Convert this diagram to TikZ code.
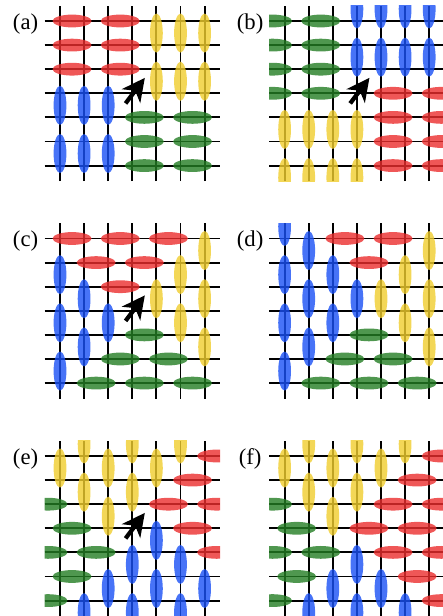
\documentclass[tikz,border=0pt]{standalone}
\usepackage{fontspec}
\setmainfont{Liberation Serif}
\usepackage{tikz}
\usetikzlibrary{arrows.meta}

\definecolor{dimerred}{RGB}{235,45,45}
\definecolor{dimeryellow}{RGB}{240,205,45}
\definecolor{dimerblue}{RGB}{25,80,245}
\definecolor{dimergreen}{RGB}{35,125,35}

\begin{document}
\begin{tikzpicture}[x=18.075pt, y=18.075pt]
    % Define styles for the lattice and the dimers
    \tikzstyle{lattice} = [draw=black, line width=1.4pt, step=1]
    \tikzstyle{hd} = [x radius=0.81, y radius=0.265]
    \tikzstyle{vd} = [x radius=0.265, y radius=0.81]
    \tikzstyle{red dimer} = [fill=dimerred, fill opacity=0.8]
    \tikzstyle{yellow dimer} = [fill=dimeryellow, fill opacity=0.8]
    \tikzstyle{blue dimer} = [fill=dimerblue, fill opacity=0.8]
    \tikzstyle{green dimer} = [fill=dimergreen, fill opacity=0.8]
    \tikzstyle{panel label} = [inner sep=0, font=\fontsize{17}{20}\selectfont]
    \tikzstyle{arrow} = [
        line width=3.2pt, -{Stealth[length=17pt, width=17pt, inset=5pt]}
    ]

    \useasboundingbox (-2.49,0.871) rectangle (15.89,-24.69);
    \clip (-2.49,0.871) rectangle (15.89,-24.69);

    % Panel (a)
    \begin{scope}
        \node[panel label] (lbl_a) at (-1.43,-0.12) {(a)};
        \begin{scope}
            \clip (-0.64,0.64) rectangle (6.64,-6.64);
            \draw[lattice] (-0.64,0.64) grid (6.64,-6.64);
            \fill[red dimer] (0.5,0) ellipse[hd] (2.5,0) ellipse[hd]
                (0.5,-1) ellipse[hd] (2.5,-1) ellipse[hd]
                (0.5,-2) ellipse[hd] (2.5,-2) ellipse[hd];
            \fill[yellow dimer] (4,-0.5) ellipse[vd] (5,-0.5) ellipse[vd]
                (6,-0.5) ellipse[vd] (4,-2.5) ellipse[vd]
                (5,-2.5) ellipse[vd] (6,-2.5) ellipse[vd];
            \fill[blue dimer] (0,-3.5) ellipse[vd] (1,-3.5) ellipse[vd]
                (2,-3.5) ellipse[vd] (0,-5.5) ellipse[vd]
                (1,-5.5) ellipse[vd] (2,-5.5) ellipse[vd];
            \fill[green dimer] (3.5,-4) ellipse[hd] (5.5,-4) ellipse[hd]
                (3.5,-5) ellipse[hd] (5.5,-5) ellipse[hd]
                (3.5,-6) ellipse[hd] (5.5,-6) ellipse[hd];
        \end{scope}
        \coordinate (tail_a) at (2.72,-3.42);
        \coordinate (tip_a) at (3.52,-2.36);
        \draw[arrow] (tail_a) to (tip_a);
    \end{scope}

    % Panel (b)
    \begin{scope}[shift={(9.32,0)}]
        \node[panel label] (lbl_b) at (-1.43,-0.12) {(b)};
        \begin{scope}
            \clip (-0.64,0.64) rectangle (6.64,-6.64);
            \draw[lattice] (-0.64,0.64) grid (6.64,-6.64);
            \fill[green dimer] (-0.5,0) ellipse[hd] (1.5,0) ellipse[hd]
                (-0.5,-1) ellipse[hd] (1.5,-1) ellipse[hd]
                (-0.5,-2) ellipse[hd] (1.5,-2) ellipse[hd]
                (-0.5,-3) ellipse[hd] (1.5,-3) ellipse[hd];
            \fill[blue dimer] (3,0.5) ellipse[vd] (4,0.5) ellipse[vd]
                (5,0.5) ellipse[vd] (6,0.5) ellipse[vd]
                (3,-1.5) ellipse[vd] (4,-1.5) ellipse[vd]
                (5,-1.5) ellipse[vd] (6,-1.5) ellipse[vd];
            \fill[red dimer] (4.5,-3) ellipse[hd] (6.5,-3) ellipse[hd]
                (4.5,-4) ellipse[hd] (6.5,-4) ellipse[hd]
                (4.5,-5) ellipse[hd] (6.5,-5) ellipse[hd]
                (4.5,-6) ellipse[hd] (6.5,-6) ellipse[hd];
            \fill[yellow dimer] (0,-4.5) ellipse[vd] (1,-4.5) ellipse[vd]
                (2,-4.5) ellipse[vd] (3,-4.5) ellipse[vd]
                (0,-6.5) ellipse[vd] (1,-6.5) ellipse[vd]
                (2,-6.5) ellipse[vd] (3,-6.5) ellipse[vd];
        \end{scope}
        \coordinate (tail_b) at (2.72,-3.42);
        \coordinate (tip_b) at (3.52,-2.36);
        \draw[arrow] (tail_b) to (tip_b);
    \end{scope}

    % Panel (c)
    \begin{scope}[shift={(0,-9.025)}]
        \node[panel label] (lbl_c) at (-1.43,-0.12) {(c)};
        \begin{scope}
            \clip (-0.64,0.64) rectangle (6.64,-6.64);
            \draw[lattice] (-0.64,0.64) grid (6.64,-6.64);
            \fill[red dimer] (0.5,0) ellipse[hd] (2.5,0) ellipse[hd]
                (4.5,0) ellipse[hd] (1.5,-1) ellipse[hd]
                (3.5,-1) ellipse[hd] (2.5,-2) ellipse[hd];
            \fill[yellow dimer] (6,-0.5) ellipse[vd] (6,-2.5) ellipse[vd]
                (6,-4.5) ellipse[vd] (5,-1.5) ellipse[vd]
                (5,-3.5) ellipse[vd] (4,-2.5) ellipse[vd];
            \fill[blue dimer] (0,-1.5) ellipse[vd] (0,-3.5) ellipse[vd]
                (0,-5.5) ellipse[vd] (1,-2.5) ellipse[vd]
                (1,-4.5) ellipse[vd] (2,-3.5) ellipse[vd];
            \fill[green dimer] (3.5,-4) ellipse[hd] (2.5,-5) ellipse[hd]
                (4.5,-5) ellipse[hd] (1.5,-6) ellipse[hd]
                (3.5,-6) ellipse[hd] (5.5,-6) ellipse[hd];
        \end{scope}
        \coordinate (tail_c) at (2.72,-3.42);
        \coordinate (tip_c) at (3.52,-2.36);
        \draw[arrow] (tail_c) to (tip_c);
    \end{scope}

    % Panel (d)
    \begin{scope}[shift={(9.32,-9.025)}]
        \node[panel label] (lbl_d) at (-1.43,-0.12) {(d)};
        \begin{scope}
            \clip (-0.64,0.64) rectangle (6.64,-6.64);
            \draw[lattice] (-0.64,0.64) grid (6.64,-6.64);
            \fill[blue dimer] (0,0.5) ellipse[vd] (0,-1.5) ellipse[vd]
                (0,-3.5) ellipse[vd] (0,-5.5) ellipse[vd]
                (1,-0.5) ellipse[vd] (1,-2.5) ellipse[vd]
                (1,-4.5) ellipse[vd] (2,-1.5) ellipse[vd]
                (2,-3.5) ellipse[vd] (3,-2.5) ellipse[vd];
            \fill[red dimer] (2.5,0) ellipse[hd] (4.5,0) ellipse[hd]
                (3.5,-1) ellipse[hd];
            \fill[yellow dimer] (6,-0.5) ellipse[vd] (6,-2.5) ellipse[vd]
                (6,-4.5) ellipse[vd] (5,-1.5) ellipse[vd]
                (5,-3.5) ellipse[vd] (4,-2.5) ellipse[vd];
            \fill[green dimer] (3.5,-4) ellipse[hd] (2.5,-5) ellipse[hd]
                (4.5,-5) ellipse[hd] (1.5,-6) ellipse[hd]
                (3.5,-6) ellipse[hd] (5.5,-6) ellipse[hd];
        \end{scope}
    \end{scope}

    % Panel (e)
    \begin{scope}[shift={(0,-18.05)}]
        \node[panel label] (lbl_e) at (-1.43,-0.12) {(e)};
        \begin{scope}
            \clip (-0.64,0.64) rectangle (6.64,-6.64);
            \draw[lattice] (-0.64,0.64) grid (6.64,-6.64);
            \fill[yellow dimer] (0,-0.5) ellipse[vd] (1,0.5) ellipse[vd]
                (1,-1.5) ellipse[vd] (2,-0.5) ellipse[vd]
                (2,-2.5) ellipse[vd] (3,0.5) ellipse[vd]
                (3,-1.5) ellipse[vd] (4,-0.5) ellipse[vd]
                (5,0.5) ellipse[vd];
            \fill[red dimer] (6.5,0) ellipse[hd] (5.5,-1) ellipse[hd]
                (4.5,-2) ellipse[hd] (6.5,-2) ellipse[hd]
                (5.5,-3) ellipse[hd] (6.5,-4) ellipse[hd];
            \fill[green dimer] (-0.5,-2) ellipse[hd] (0.5,-3) ellipse[hd]
                (-0.5,-4) ellipse[hd] (1.5,-4) ellipse[hd]
                (0.5,-5) ellipse[hd] (-0.5,-6) ellipse[hd];
            \fill[blue dimer] (1,-6.5) ellipse[vd] (2,-5.5) ellipse[vd]
                (3,-4.5) ellipse[vd] (3,-6.5) ellipse[vd]
                (4,-3.5) ellipse[vd] (4,-5.5) ellipse[vd]
                (5,-4.5) ellipse[vd] (5,-6.5) ellipse[vd]
                (6,-5.5) ellipse[vd];
        \end{scope}
        \coordinate (tail_e) at (2.72,-3.42);
        \coordinate (tip_e) at (3.52,-2.36);
        \draw[arrow] (tail_e) to (tip_e);
    \end{scope}

    % Panel (f)
    \begin{scope}[shift={(9.32,-18.05)}]
        \node[panel label] (lbl_f) at (-1.43,-0.12) {(f)};
        \begin{scope}
            \clip (-0.64,0.64) rectangle (6.64,-6.64);
            \draw[lattice] (-0.64,0.64) grid (6.64,-6.64);
            \fill[yellow dimer] (0,-0.5) ellipse[vd] (1,0.5) ellipse[vd]
                (1,-1.5) ellipse[vd] (2,-0.5) ellipse[vd]
                (2,-2.5) ellipse[vd] (3,0.5) ellipse[vd]
                (3,-1.5) ellipse[vd] (4,-0.5) ellipse[vd]
                (5,0.5) ellipse[vd];
            \fill[red dimer] (6.5,0) ellipse[hd] (5.5,-1) ellipse[hd]
                (4.5,-2) ellipse[hd] (6.5,-2) ellipse[hd]
                (3.5,-3) ellipse[hd] (5.5,-3) ellipse[hd]
                (4.5,-4) ellipse[hd] (6.5,-4) ellipse[hd]
                (5.5,-5) ellipse[hd] (6.5,-6) ellipse[hd];
            \fill[green dimer] (-0.5,-2) ellipse[hd] (0.5,-3) ellipse[hd]
                (-0.5,-4) ellipse[hd] (1.5,-4) ellipse[hd]
                (0.5,-5) ellipse[hd] (-0.5,-6) ellipse[hd];
            \fill[blue dimer] (1,-6.5) ellipse[vd] (2,-5.5) ellipse[vd]
                (3,-4.5) ellipse[vd] (3,-6.5) ellipse[vd]
                (4,-5.5) ellipse[vd] (5,-6.5) ellipse[vd];
        \end{scope}
    \end{scope}

\end{tikzpicture}
\end{document}
